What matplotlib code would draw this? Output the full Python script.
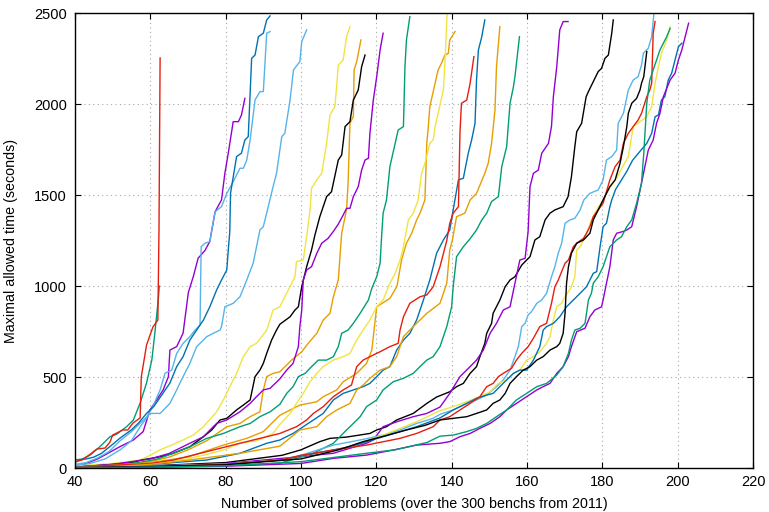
import matplotlib
matplotlib.use("Agg")
import matplotlib.pyplot as plt

# gnuplot default palette
PURPLE, GREEN, LBLUE, ORANGE = "#9400d3", "#009e73", "#56b4e9", "#e69f00"
YELLOW, BLUE, RED, BLACK = "#f0e442", "#0072b2", "#e51e10", "#000000"

# cactus curves: number of solved problems (x) vs allowed time in seconds (y)
purple1_x = [40, 43, 46, 48.4, 51.9, 55.5, 58.1, 59.9, 61.7, 63.4, 64.8, 65.2, 67, 68.7, 70.1, 71.4, 72.7, 74.5, 75.8, 77.2, 78.9, 79.8, 80.7, 82, 83.4, 84.2, 85.1]
purple1_y = [10, 25, 50, 77, 117, 154, 200, 319, 374, 429, 502, 648, 667, 741, 965, 1051, 1153, 1195, 1245, 1408, 1473, 1620, 1730, 1903, 1903, 1940, 2031]

green1_x = [40, 42, 44, 46.6, 49.3, 51, 53.7, 55.5, 57.3, 59, 60.4, 61.2, 62.1, 62.4]
green1_y = [30, 50, 71, 117, 172, 185, 227, 264, 357, 467, 593, 741, 923, 1000]

lblue1_x = [40, 43, 46, 49, 52, 55, 57, 59, 60.5, 62.6, 63.9, 65.7, 67, 68.7, 70.5, 71.9, 73.2, 73.5, 74.5, 75.8, 76.3, 77.2, 78.9, 80.3, 82, 83.8, 84.7, 85.6, 86.5, 87.8, 89.1, 90, 90.9, 91.8]
lblue1_y = [20, 30, 55, 90, 150, 200, 240, 280, 330, 429, 521, 538, 630, 685, 722, 758, 786, 1216, 1235, 1244, 1308, 1408, 1436, 1509, 1573, 1647, 1647, 1692, 1802, 2022, 2068, 2068, 2389, 2398]

orange1_x = [40, 50, 60, 65, 70, 75, 80.3, 83.8, 86.5, 89.1, 90, 90.9, 92.6, 94.4, 96.2, 97.5, 100.2, 101.9, 104.2, 105.9, 107.7, 108.6, 109.9, 110.8, 112.1, 112.5, 113, 113.9, 114.1, 114.8, 115.9]
orange1_y = [5, 15, 35, 60, 100, 150, 227, 245, 282, 309, 429, 502, 520, 529, 566, 593, 639, 685, 740, 813, 850, 941, 1033, 1290, 1420, 1565, 1894, 1931, 2187, 2233, 2352]

yellow1_x = [40, 45, 50, 54, 57.3, 60, 62.6, 65, 68.7, 71.4, 74.1, 77.6, 79.4, 81.1, 82.9, 84.7, 86.5, 88.2, 90.9, 92.6, 94.4, 95.7, 97.1, 98.4, 98.8, 100.6, 101.5, 102.4, 102.8, 104.2, 105.5, 106.8, 107.7, 109, 109.5, 109.9, 111.2, 112.1, 113]
yellow1_y = [10, 18, 25, 35, 44, 70, 100, 120, 154, 181, 227, 309, 374, 447, 520, 612, 667, 685, 758, 868, 886, 941, 996, 1051, 1134, 1143, 1271, 1420, 1537, 1583, 1619, 1784, 1940, 1985, 2105, 2214, 2242, 2370, 2425]

blue1_x = [40, 43, 45, 47, 50, 52, 55, 57, 59, 61, 63, 65.2, 67, 68.7, 70.5, 72.3, 74.1, 75.8, 77.6, 78.9, 80.3, 80.7, 81.1, 81.3, 82.9, 84.2, 85.1, 86, 86.9, 87.8, 88.7, 90, 90.9, 91.8]
blue1_y = [45, 50, 60, 80, 130, 165, 210, 250, 300, 340, 400, 467, 557, 612, 703, 758, 813, 886, 978, 1033, 1088, 1198, 1300, 1510, 1711, 1730, 1802, 1821, 2251, 2269, 2370, 2389, 2462, 2484]

red1_x = [40, 42, 44, 45.8, 48, 49.3, 50, 52.7, 54, 55.4, 57.3, 57.6, 59, 60.7, 62, 62.3, 62.6]
red1_y = [35, 45, 75, 104, 110, 143, 181, 209, 209, 247, 275, 500, 676, 775, 813, 1300, 2253]

black1_x = [40, 45, 50, 55, 58, 62.6, 66.1, 70.5, 74.1, 76.3, 78.5, 80.3, 82.9, 84.7, 86.5, 87.8, 89.1, 90, 90.9, 92.2, 93.5, 94.4, 97.1, 98.4, 99.3, 100.2, 101.5, 102.8, 103.7, 105, 106.8, 108.1, 109.9, 110.8, 111.7, 113, 113.9, 115.2, 116.1, 117]
black1_y = [5, 12, 20, 30, 45, 62, 81, 117, 172, 209, 264, 273, 319, 346, 374, 502, 538, 575, 630, 703, 758, 790, 831, 868, 886, 996, 1106, 1198, 1280, 1381, 1491, 1518, 1692, 1720, 1876, 1903, 2022, 2077, 2205, 2269]

purple2_x = [40, 50, 60, 65, 70.5, 74.1, 77.6, 80.3, 83.8, 86.5, 88.2, 90, 91.8, 94.4, 96.2, 97.9, 99.3, 99.7, 100.2, 100.6, 101.5, 102.8, 104.2, 105.5, 107.2, 108.6, 109.9, 111.2, 112.1, 113, 113.9, 115.2, 116.1, 117, 117.9, 118.3, 119.2, 120.1, 121, 121.8]
purple2_y = [5, 20, 50, 80, 136, 172, 245, 264, 309, 355, 392, 429, 438, 490, 538, 575, 667, 777, 868, 1033, 1088, 1106, 1180, 1235, 1262, 1300, 1340, 1390, 1427, 1427, 1491, 1546, 1637, 1692, 1702, 1839, 2022, 2150, 2297, 2389]

green2_x = [40, 50, 57, 62, 66.1, 70.5, 75, 79.4, 83.8, 86.5, 89.1, 91.8, 94.4, 96.2, 97.9, 99.3, 101.1, 102.8, 104.6, 106.8, 108.6, 109.9, 110.8, 112.5, 113.9, 115.7, 117.9, 118.8, 120.1, 121, 121.4, 121.8, 122.7, 123.6, 125, 125.8, 127.2, 127.6, 128, 128.9]
green2_y = [5, 15, 30, 50, 81, 117, 163, 190, 227, 245, 282, 309, 350, 410, 447, 502, 520, 557, 593, 593, 612, 667, 740, 758, 795, 850, 923, 987, 1051, 1125, 1271, 1400, 1473, 1656, 1784, 1857, 1876, 2205, 2352, 2480]

lblue2_x = [40, 44, 48, 52, 55, 57.3, 59.9, 62.6, 65.2, 67, 68.7, 70.5, 72.3, 75, 76.7, 78.5, 78.9, 79.8, 82, 83.8, 85.6, 87.3, 88.2, 89.1, 90, 91.3, 92.6, 93.5, 94.9, 95.7, 97.1, 98, 99.7, 100.2, 101.5]
lblue2_y = [15, 25, 50, 100, 150, 227, 300, 300, 355, 429, 502, 575, 667, 722, 740, 758, 777, 886, 905, 941, 1033, 1125, 1216, 1308, 1326, 1436, 1546, 1619, 1821, 1839, 2022, 2187, 2233, 2343, 2407]

orange2_x = [40, 50, 60, 70, 79.4, 85.6, 90, 94.4, 99.7, 104.2, 105.9, 109.5, 111.2, 114.8, 117.4, 118.8, 120.1, 123.6, 125.5, 126.7, 128, 129.4, 130.7, 131.6, 132.9, 133.4, 133.8, 134.2, 135.6, 136.4, 137.3, 138.2, 139.1, 139.5, 140.9]
orange2_y = [5, 15, 30, 60, 126, 163, 200, 290, 346, 364, 392, 429, 474, 520, 575, 648, 886, 932, 1000, 1143, 1235, 1290, 1363, 1400, 1473, 1784, 1876, 1985, 2114, 2187, 2224, 2269, 2278, 2352, 2398]

yellow2_x = [40, 50, 60, 70, 75, 79.4, 83.8, 88.2, 92.6, 94.4, 97.1, 98.8, 100.6, 102.4, 104.2, 105.9, 108.6, 111.2, 113, 114.8, 116.5, 118.3, 120.1, 121.8, 123.6, 125, 126.3, 127.2, 128.5, 129.8, 131.1, 132, 132.9, 134.2, 135.1, 135.6, 136.4, 137.8, 138.2, 138.8]
yellow2_y = [3, 10, 25, 50, 75, 99, 136, 150, 190, 240, 300, 355, 410, 474, 520, 557, 593, 612, 630, 703, 758, 813, 886, 923, 1015, 1070, 1143, 1216, 1363, 1400, 1473, 1619, 1674, 1784, 1802, 1876, 1949, 2077, 2224, 2498]

blue2_x = [40, 50, 60, 75, 83.8, 90.9, 94.4, 97.9, 100.6, 103.3, 105.9, 108.6, 111.2, 113.9, 116.5, 118.3, 120.1, 121.8, 123.6, 125.4, 127.2, 128.9, 130.7, 132.5, 134.2, 136, 137.8, 139.5, 140.4, 141.8, 143.1, 144.4, 145.3, 146.2, 146.6, 147.1, 148, 148.8]
blue2_y = [3, 10, 20, 44, 81, 136, 154, 190, 227, 264, 300, 374, 410, 429, 447, 465, 502, 538, 557, 648, 703, 740, 813, 923, 1033, 1180, 1253, 1308, 1418, 1583, 1592, 1729, 1802, 1894, 2132, 2297, 2370, 2462]

red2_x = [40, 50, 60, 66.1, 75, 83.8, 90.9, 94.4, 98.8, 101.5, 103.3, 105.9, 108.6, 111.2, 113.4, 114.8, 116.5, 119.2, 121, 123.6, 125.8, 126.3, 127.2, 128.9, 131.6, 133.4, 135.1, 136.9, 138.7, 139.5, 140.4, 141.8, 142.2, 142.6, 144, 144.9, 145.9]
red2_y = [5, 15, 25, 44, 90, 136, 172, 190, 227, 264, 300, 337, 392, 429, 456, 557, 593, 621, 639, 667, 685, 758, 831, 905, 941, 951, 996, 1106, 1250, 1345, 1400, 1436, 1839, 2004, 2022, 2114, 2260]

black2_x = [40, 60, 80, 95, 100, 105, 107.7, 112.1, 118.3, 120.1, 122.7, 125.4, 129.8, 133.4, 136, 139.5, 141.3, 143.1, 144.9, 146.6, 147.5, 148.8, 149.3, 150.6, 151, 152.8, 154.2, 155.5, 156.8, 158.6, 159.5, 160.8, 162.1, 163.4, 164.8, 166.1, 167.4, 169.6, 170.9, 171.8, 172.7, 173.2, 174.5, 175.7, 176.3, 177.6, 178.9, 179.8, 180.7, 181.6, 182.5, 182.9]
black2_y = [3, 12, 30, 70, 100, 145, 163, 170, 190, 209, 227, 264, 300, 355, 390, 419, 447, 465, 520, 557, 612, 685, 740, 795, 850, 923, 996, 1033, 1051, 1115, 1134, 1161, 1253, 1271, 1363, 1400, 1418, 1436, 1491, 1601, 1766, 1848, 1894, 2040, 2068, 2123, 2178, 2196, 2251, 2269, 2389, 2462]

purple3_x = [40, 60, 80, 99.7, 108.6, 117.4, 119.2, 121.8, 125.4, 129.8, 133.4, 136.9, 139.5, 142.2, 144.9, 146.6, 148.4, 150.2, 151.9, 153.7, 155.5, 156.8, 158.1, 159.5, 160.3, 160.8, 161.7, 163, 163.9, 165.7, 166.5, 167, 167.9, 168.7, 169.6, 170.9]
purple3_y = [2, 10, 25, 62, 81, 136, 154, 227, 254, 282, 300, 335, 410, 502, 557, 593, 648, 740, 795, 868, 886, 1015, 1143, 1152, 1300, 1546, 1619, 1637, 1729, 1784, 1876, 2040, 2205, 2407, 2453, 2453]

green3_x = [40, 60, 80, 94.4, 103.3, 108.6, 112.1, 113.9, 115.7, 117.4, 120.1, 121.8, 124.5, 127.2, 129.8, 131.6, 133.4, 135.1, 136.9, 138.7, 140, 140.4, 141.3, 143.1, 144.9, 146.6, 148, 149.3, 150.6, 152.4, 153.3, 154.6, 155.5, 156.4, 156.8, 158]
green3_y = [2, 8, 15, 26, 81, 136, 209, 245, 282, 337, 374, 429, 474, 493, 520, 557, 593, 612, 667, 777, 886, 996, 1161, 1216, 1260, 1308, 1363, 1400, 1464, 1491, 1656, 1766, 2004, 2095, 2150, 2370]

lblue3_x = [40, 60, 80, 95, 100, 108.6, 115.7, 121.8, 126.3, 130.7, 135.1, 136.9, 140.4, 144, 146.6, 149.3, 151.9, 153.7, 155.5, 156.8, 157.7, 158.6, 159.5, 160.3, 161.2, 162.6, 163.9, 165.2, 166.5, 167.4, 168.3, 169.2, 170.1, 171.4, 172.7, 174.1, 175.1, 176.7, 178.9, 180.2, 181.1, 182.5, 183.8, 184.2, 185.6, 186.9, 188.2, 189.5, 190.4, 190.9, 192.2, 193.1, 193.7]
lblue3_y = [3, 10, 22, 45, 70, 126, 154, 181, 209, 245, 273, 295, 319, 355, 374, 401, 447, 484, 538, 612, 667, 777, 795, 841, 859, 905, 923, 960, 1051, 1106, 1180, 1235, 1345, 1363, 1372, 1418, 1473, 1509, 1528, 1583, 1692, 1711, 1747, 1894, 1949, 2077, 2132, 2150, 2214, 2279, 2306, 2370, 2498]

orange3_x = [40, 50, 60, 70.5, 83.8, 94.4, 99.7, 104.2, 106.8, 109.5, 113, 114.8, 116.5, 118.3, 121, 123.6, 125.4, 127.2, 128.9, 130.7, 133.4, 136.9, 138.7, 139.5, 140.2, 141.3, 143.5, 144.9, 146.6, 148.8, 149.7, 150.6, 151.5, 151.9, 152.8]
orange3_y = [2, 8, 20, 44, 81, 120, 209, 227, 282, 319, 355, 429, 456, 493, 538, 557, 612, 722, 758, 795, 850, 905, 1015, 1198, 1253, 1381, 1400, 1473, 1509, 1619, 1674, 1784, 1967, 2205, 2425]

yellow3_x = [40, 60, 80, 95, 100, 113, 121.8, 130.7, 136.9, 140.4, 144, 147.5, 150.2, 152.4, 154.6, 156.4, 158.1, 159.9, 161.7, 163.4, 165.2, 166.1, 167, 167.9, 169.2, 170.1, 171.8, 172.7, 173.2, 174.1, 175, 175.8, 177.1, 178.5, 180.2, 182, 184, 185.5, 186.9, 188.2, 191.8, 193.1, 194, 194.9, 195.7, 197.1, 198]
yellow3_y = [2, 9, 20, 45, 65, 117, 181, 254, 315, 337, 364, 392, 419, 465, 484, 520, 538, 593, 612, 639, 685, 722, 813, 886, 905, 941, 996, 1051, 1198, 1216, 1253, 1290, 1363, 1418, 1473, 1540, 1600, 1660, 1711, 1876, 1930, 1985, 2114, 2205, 2279, 2352, 2425]

blue3_x = [40, 60, 80, 95, 100, 113, 121.8, 130.7, 136.9, 140.4, 144, 146.6, 149.3, 151, 152.8, 154.6, 156.4, 158.1, 159.9, 161.7, 163.4, 164.3, 165.2, 167, 168.7, 170.5, 172.3, 174.1, 175.8, 177.6, 178.5, 179.4, 180.2, 181.1, 182, 182.5, 183.5, 185, 186.5, 188, 190, 191.8, 193.1, 194, 194.9, 195.7, 196.6, 197.5, 198.4, 199.3, 200.2, 201.1]
blue3_y = [2, 8, 20, 45, 65, 117, 172, 227, 275, 319, 355, 383, 401, 410, 447, 484, 520, 538, 538, 593, 667, 758, 777, 795, 831, 886, 923, 960, 996, 1070, 1079, 1216, 1326, 1345, 1436, 1473, 1530, 1580, 1630, 1690, 1740, 1784, 1839, 1930, 1940, 2022, 2040, 2132, 2169, 2242, 2315, 2334]

red3_x = [40, 60, 80, 95, 100, 108.6, 117.4, 126.3, 130.7, 135.1, 136.9, 139.5, 142.2, 144.9, 147.5, 149.3, 151, 152.4, 153.7, 155.9, 157.2, 158.6, 160.3, 161.7, 163.4, 165.2, 166.5, 167.4, 168.3, 170.1, 171, 172.3, 173.2, 175, 175.8, 176.7, 177.6, 178.9, 180.2, 182, 183.4, 184.7, 185.6, 186.9, 188.2, 189.5, 190.4, 191.8, 192.6, 193.1, 193.5, 194]
red3_y = [2, 8, 20, 45, 70, 99, 126, 163, 190, 227, 264, 282, 319, 355, 392, 447, 465, 502, 520, 548, 593, 630, 667, 713, 777, 795, 905, 996, 1033, 1125, 1143, 1216, 1235, 1262, 1290, 1326, 1381, 1418, 1455, 1583, 1656, 1692, 1784, 1839, 1876, 1912, 1949, 2040, 2077, 2114, 2389, 2453]

black3_x = [40, 60, 80, 100, 110, 116.5, 122, 128, 133, 136.9, 140.4, 144, 146.6, 149.3, 151, 152.8, 154.2, 155.5, 157.2, 159, 160.8, 162.6, 164.3, 166.1, 167.9, 168.7, 169.6, 170.1, 170.5, 171, 171.8, 173.2, 175, 176.7, 177.6, 178.9, 180.2, 182, 183.4, 184.7, 185.6, 186.5, 186.9, 187.8, 189.1, 190, 190.4, 191, 191.8]
black3_y = [2, 8, 18, 50, 100, 145, 175, 209, 235, 264, 273, 282, 300, 319, 355, 374, 410, 465, 502, 538, 557, 593, 612, 648, 667, 685, 740, 850, 1015, 1106, 1180, 1235, 1253, 1290, 1363, 1418, 1473, 1546, 1583, 1674, 1766, 1876, 1949, 2004, 2031, 2077, 2114, 2150, 2288]

purple4_x = [40, 60, 80, 100, 108.6, 117.4, 124.5, 130.7, 136.9, 139.5, 142.2, 144.9, 147.5, 150.2, 152.8, 154.6, 157.2, 159.9, 162.6, 164.3, 166.1, 167.9, 169.6, 171, 171.8, 173.2, 175.4, 176.7, 178, 179.8, 180.2, 181.1, 182, 182.9, 183.8, 185.6, 186.5, 187.8, 189.1, 190.4, 191.3, 192.2, 193.5, 194.4, 195.3, 196.2, 198, 199.3, 200.2, 201.1, 202, 202.9]
purple4_y = [1, 4, 10, 25, 53, 71, 99, 126, 136, 145, 172, 190, 218, 245, 282, 319, 355, 392, 429, 447, 465, 520, 557, 612, 667, 749, 768, 831, 868, 886, 923, 1015, 1106, 1253, 1290, 1300, 1308, 1326, 1436, 1565, 1656, 1747, 1802, 1894, 1949, 2040, 2132, 2169, 2242, 2297, 2370, 2444]

green4_x = [40, 60, 80, 100, 117.4, 125, 133.4, 136.9, 140.4, 144, 146.6, 149.3, 151.9, 154.6, 157.2, 159.9, 162.6, 165.2, 167.9, 169.6, 171, 171.8, 172.7, 174.1, 175.4, 175.8, 176.3, 177.1, 177.6, 178.9, 180.2, 181.1, 182, 183.8, 185.1, 186.5, 187.8, 189.1, 190.4, 191, 191.8, 192.6, 194.4, 195.3, 196.2, 197.1, 198]
green4_y = [1, 5, 12, 35, 81, 100, 140, 175, 181, 200, 218, 245, 282, 319, 374, 410, 447, 465, 511, 557, 630, 703, 758, 768, 795, 850, 923, 960, 1015, 1051, 1106, 1161, 1216, 1253, 1271, 1326, 1363, 1455, 1565, 1729, 2004, 2132, 2242, 2297, 2334, 2370, 2416]

# drawing order follows gnuplot's colour cycle
series = [
    (purple1_x, purple1_y, PURPLE), (green1_x, green1_y, GREEN),
    (lblue1_x, lblue1_y, LBLUE), (orange1_x, orange1_y, ORANGE),
    (yellow1_x, yellow1_y, YELLOW), (blue1_x, blue1_y, BLUE),
    (red1_x, red1_y, RED), (black1_x, black1_y, BLACK),
    (purple2_x, purple2_y, PURPLE), (green2_x, green2_y, GREEN),
    (lblue2_x, lblue2_y, LBLUE), (orange2_x, orange2_y, ORANGE),
    (yellow2_x, yellow2_y, YELLOW), (blue2_x, blue2_y, BLUE),
    (red2_x, red2_y, RED), (black2_x, black2_y, BLACK),
    (purple3_x, purple3_y, PURPLE), (green3_x, green3_y, GREEN),
    (lblue3_x, lblue3_y, LBLUE), (orange3_x, orange3_y, ORANGE),
    (yellow3_x, yellow3_y, YELLOW), (blue3_x, blue3_y, BLUE),
    (red3_x, red3_y, RED), (black3_x, black3_y, BLACK),
    (purple4_x, purple4_y, PURPLE), (green4_x, green4_y, GREEN),
]

x_ticks = list(range(40, 221, 20))
y_ticks = list(range(0, 2501, 500))

plt.rcParams["font.family"] = ["Liberation Sans", "DejaVu Sans"]

fig = plt.figure(figsize=(7.69, 5.12), dpi=100)
ax = fig.add_axes([0.0975, 0.0859, 0.8817, 0.8887])

for xs, ys, col in series:
    ax.plot(xs, ys, color=col, lw=1.0)

ax.set_xlim(40, 220)
ax.set_ylim(0, 2500)
ax.set_xticks(x_ticks)
ax.set_yticks(y_ticks)
ax.set_axisbelow(True)
ax.grid(True, color="#a8a8a8", linestyle=(0, (1, 3)), lw=0.8)
ax.tick_params(direction="in", top=True, right=True, length=4.5, width=0.8,
               labelsize=10.5)
ax.tick_params(axis="x", pad=5)
ax.tick_params(axis="y", pad=6)
for sp in ax.spines.values():
    sp.set_linewidth(1.0)

ax.set_xlabel("Number of solved problems (over the 300 benchs from 2011)", fontsize=10.3)
ax.set_ylabel("Maximal allowed time (seconds)", fontsize=10.3)
ax.xaxis.set_label_coords(0.5, -0.064)
ax.yaxis.set_label_coords(-0.084, 0.5)

fig.savefig("out.png", dpi=100)
plt.close(fig)
